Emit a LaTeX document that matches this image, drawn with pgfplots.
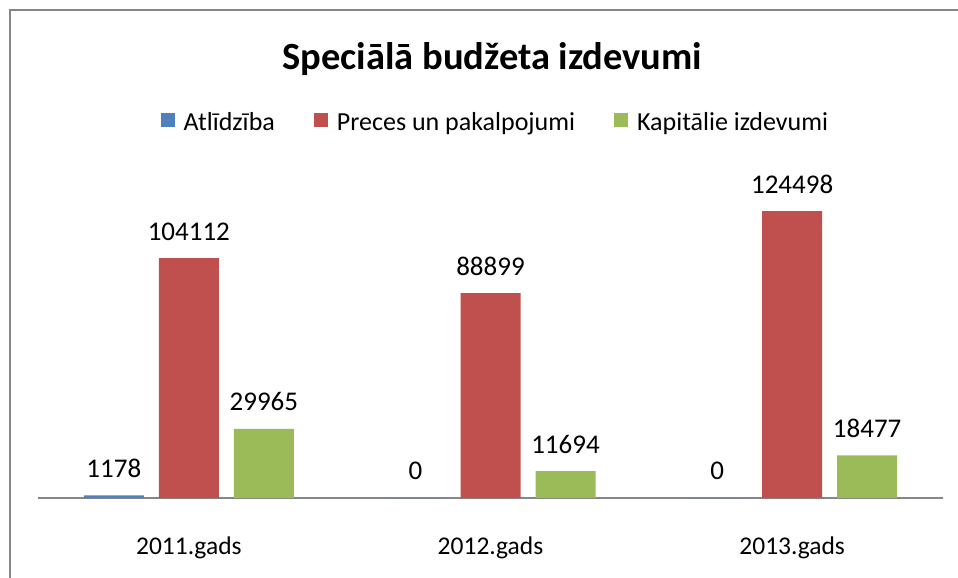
\documentclass[border=0pt]{standalone}
\usepackage{pgfplots}
\pgfplotsset{compat=1.18}
\usepackage{fontspec}
\setmainfont{Carlito}
\definecolor{barblue}{RGB}{79,129,189}
\definecolor{barred}{RGB}{192,80,77}
\definecolor{bargreen}{RGB}{155,187,89}
\definecolor{framegray}{RGB}{134,134,134}

\begin{document}
\begin{tikzpicture}
  \useasboundingbox (-38pt,-80pt) rectangle (920pt,498pt);
  \begin{axis}[
      scale only axis, width=905pt, height=322.7pt,
      ybar=15pt, bar width=60pt,
      xmin=-0.5, xmax=2.5, ymin=0, ymax=140000,
      xtick={0,1,2}, xticklabels={2011.gads,2012.gads,2013.gads},
      xtick style={draw=none}, ytick=\empty,
      axis x line*=bottom, axis y line=none,
      x axis line style={framegray, line width=1.8pt, -},
      x tick label style={font=\fontsize{25.5}{28}\selectfont, anchor=base, yshift=-52pt},
      /pgf/number format/assume math mode=true,
      /pgf/number format/fixed,
      /pgf/number format/precision=0,
      /pgf/number format/1000 sep={},
      nodes near coords,
      every node near coord/.append style={font=\fontsize{27}{30}\selectfont, anchor=base, yshift=18pt, inner sep=0pt},
      title={Speciālā budžeta izdevumi},
      title style={at={(0.502,1.342)}, anchor=center, font=\fontsize{38.5}{42}\selectfont\bfseries},
      legend columns=3,
      legend style={at={(0.506,1.165)}, anchor=center, draw=none,
        font=\fontsize{26}{30}\selectfont, nodes={inner xsep=3pt},
        /tikz/every even column/.append style={column sep=36pt}},
      legend image code/.code={\fill[#1] (0pt,-5pt) rectangle (14pt,9pt); \path (20pt,0pt);},
    ]
    \addplot[fill=barblue, draw=none] coordinates {(0,1178) (1,0) (2,0)};
    \addplot[fill=barred, draw=none] coordinates {(0,104112) (1,88899) (2,124498)};
    \addplot[fill=bargreen, draw=none] coordinates {(0,29965) (1,11694) (2,18477)};
    \legend{Atlīdzība, Preces un pakalpojumi, Kapitālie izdevumi}
  \end{axis}
  \draw[framegray, line width=2pt] (-28pt,-80pt) -- (-28pt,488pt) -- (920pt,488pt);
\end{tikzpicture}
\end{document}
